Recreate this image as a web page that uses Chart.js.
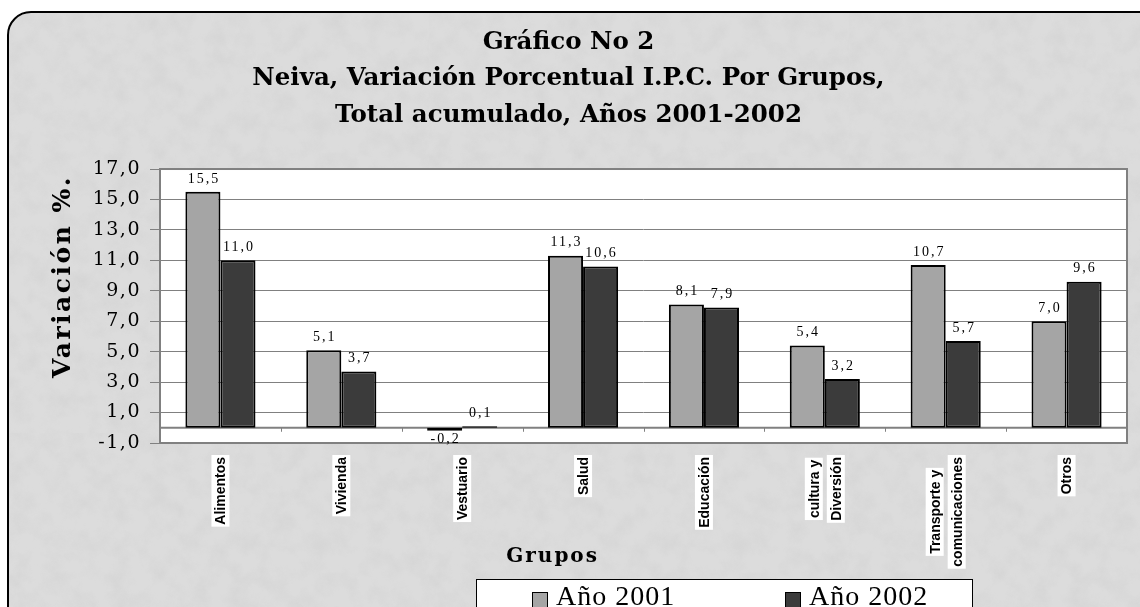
<!DOCTYPE html>
<html>
<head>
<meta charset="utf-8">
<script src="https://cdn.jsdelivr.net/npm/chart.js@4.4.1/dist/chart.umd.min.js"></script>
<style>
    html, body { margin: 0; padding: 0; background: #fff; overflow: hidden; }
    #marco {
        position: absolute; left: 7px; top: 11px; width: 1170px; height: 620px;
        border: 2px solid #000; border-top-left-radius: 24px;
        background-color: #dcdcdc;
        background-image: url("data:image/svg+xml;utf8,<svg xmlns='http://www.w3.org/2000/svg' width='420' height='420'><filter id='t'><feTurbulence type='fractalNoise' baseFrequency='0.05' numOctaves='4' seed='7'/><feColorMatrix type='matrix' values='0 0 0 0 0.62  0 0 0 0 0.62  0 0 0 0 0.62  0.9 0 0 0 -0.34'/></filter><rect width='100%' height='100%' filter='url(%23t)'/></svg>");
    }
    #grafico { position: absolute; left: 0; top: 0; }
</style>
</head>
<body>
<div id="marco"></div>
<canvas id="grafico" width="1140" height="607"></canvas>
<script>
// Datos del gráfico
const grupos = ['Alimentos', 'Vivienda', 'Vestuario', 'Salud', 'Educación',
    ['cultura y', 'Diversión'], ['Transporte y', 'comunicaciones'], 'Otros'];
const anio2001 = [15.5, 5.1, -0.2, 11.3, 8.1, 5.4, 10.7, 7.0];
const anio2002 = [11.0, 3.7, 0.1, 10.6, 7.9, 3.2, 5.7, 9.6];
const nombresSeries = ['Año 2001', 'Año 2002'];
const coloresSeries = ['#a5a5a5', '#3b3b3b'];
const ejeY = { min: -1, max: 17, paso: 2 };

const tituloLineas = ['Gráfico No 2', 'Neiva, Variación Porcentual I.P.C. Por Grupos,', 'Total acumulado, Años 2001-2002'];
const tituloY = 'Variación %.';
const tituloX = 'Grupos';

const coma = (v) => v.toFixed(1).replace('.', ',');

// fondo blanco del área de trazado, línea del cero y marco gris
const areaPlugin = {
    id: 'areaPlugin',
    beforeDraw(chart) {
        const { ctx, chartArea: a } = chart;
        ctx.letterSpacing = '0px';
        ctx.save();
        ctx.fillStyle = '#ffffff';
        ctx.fillRect(a.left, a.top, a.right - a.left, a.bottom - a.top);
        ctx.restore();
    },
    beforeDatasetsDraw(chart) {
        const { ctx, chartArea: a, scales } = chart;
        const y0 = scales.y.getPixelForValue(0);
        ctx.save();
        ctx.strokeStyle = '#808080';
        ctx.lineWidth = 2;
        ctx.beginPath();
        ctx.moveTo(a.left, y0);
        ctx.lineTo(a.right, y0);
        ctx.stroke();
        // marcas entre categorías sobre el eje del cero
        ctx.lineWidth = 1;
        const n = grupos.length;
        const w = (a.right - a.left) / n;
        for (let i = 0; i <= n; i++) {
            const x = Math.round(a.left + i * w) + 0.5;
            ctx.beginPath();
            ctx.moveTo(x, y0);
            ctx.lineTo(x, y0 + 4);
            ctx.stroke();
        }
        ctx.restore();
    },
    afterDatasetsDraw(chart) {
        const { ctx, chartArea: a } = chart;
        ctx.save();
        ctx.strokeStyle = '#808080';
        ctx.lineWidth = 2;
        ctx.strokeRect(a.left, a.top, a.right - a.left, a.bottom - a.top);
        ctx.restore();
    }
};

// etiquetas de valor sobre cada barra
const etiquetas = {
    id: 'etiquetas',
    afterDatasetsDraw(chart) {
        const { ctx, data } = chart;
        ctx.save();
        ctx.font = '14px "Liberation Serif"';
        ctx.letterSpacing = '2px';
        ctx.fillStyle = '#000';
        ctx.textAlign = 'center';
        data.datasets.forEach((ds, di) => {
            chart.getDatasetMeta(di).data.forEach((bar, i) => {
                const v = ds.data[i];
                if (v >= 0) {
                    ctx.textBaseline = 'bottom';
                    ctx.fillText(coma(v), bar.x + 1, bar.y - 6);
                } else {
                    ctx.textBaseline = 'top';
                    ctx.fillText(coma(v), bar.x + 1, bar.y + 2);
                }
            });
        });
        ctx.restore();
    }
};

// las etiquetas del eje Y (z: 1) se pintan después de este punto, con letras algo espaciadas
const espaciado = {
    id: 'espaciado',
    afterDatasetsDraw(chart) {
        chart.ctx.letterSpacing = '1.5px';
    }
};

// títulos de ejes, etiquetas de categorías y leyenda
const textos = {
    id: 'textos',
    afterDraw(chart) {
        const { ctx, chartArea: a, scales } = chart;
        ctx.save();
        ctx.fillStyle = '#000';

        // categorías giradas, cada línea con fondo blanco
        ctx.font = 'bold 14px "Liberation Sans"';
        ctx.letterSpacing = '0px';
        const arriba = a.bottom + 12;
        chart.data.labels.forEach((lab, i) => {
            const lineas = Array.isArray(lab) ? lab : [lab];
            const xc = scales.x.getPixelForTick(i);
            const largo = Math.max(...lineas.map(l => ctx.measureText(l).width));
            const yc = arriba + largo / 2 + 2;
            lineas.forEach((l, j) => {
                const x = xc + (j - (lineas.length - 1) / 2) * 22;
                const wl = ctx.measureText(l).width;
                ctx.fillStyle = '#fff';
                ctx.fillRect(x - 9, yc - wl / 2 - 2, 18, wl + 4);
                ctx.save();
                ctx.translate(x, yc);
                ctx.rotate(-Math.PI / 2);
                ctx.fillStyle = '#000';
                ctx.textAlign = 'center';
                ctx.textBaseline = 'middle';
                ctx.fillText(l, 0, 1);
                ctx.restore();
            });
        });

        ctx.fillStyle = '#000';
        // eje Y
        ctx.font = 'bold 25px "DejaVu Serif"';
        ctx.letterSpacing = '2.5px';
        ctx.save();
        ctx.translate(63, 175);
        ctx.rotate(-Math.PI / 2);
        ctx.textAlign = 'right';
        ctx.textBaseline = 'middle';
        ctx.fillText(tituloY, 0, 0);
        ctx.restore();
        // eje X
        ctx.font = 'bold 20px "DejaVu Serif"';
        ctx.letterSpacing = '2px';
        ctx.textAlign = 'center';
        ctx.textBaseline = 'alphabetic';
        ctx.fillText(tituloX, a.left + (a.right - a.left) * 0.406, 562);

        // leyenda
        const caja = { x: 476, y: 579, w: 496, h: 40 };
        ctx.fillStyle = '#fff';
        ctx.fillRect(caja.x, caja.y, caja.w, caja.h);
        ctx.strokeStyle = '#000';
        ctx.lineWidth = 1;
        ctx.strokeRect(caja.x + 0.5, caja.y + 0.5, caja.w, caja.h);
        const xs = [532, 785];
        ctx.font = '28px "Liberation Serif"';
        ctx.letterSpacing = '1px';
        ctx.textAlign = 'left';
        nombresSeries.forEach((nombre, i) => {
            ctx.fillStyle = coloresSeries[i];
            ctx.fillRect(xs[i], 592, 15, 15);
            ctx.strokeRect(xs[i] + 0.5, 592.5, 15, 15);
            ctx.fillStyle = '#000';
            ctx.fillText(nombre, xs[i] + 24, 605);
        });
        ctx.restore();
    }
};

const ctx = document.getElementById('grafico').getContext('2d');

new Chart(ctx, {
    type: 'bar',
    data: {
        labels: grupos,
        datasets: [
            { label: nombresSeries[0], data: anio2001, backgroundColor: coloresSeries[0] },
            { label: nombresSeries[1], data: anio2002, backgroundColor: coloresSeries[1] }
        ]
    },
    options: {
        responsive: false,
        animation: false,
        datasets: {
            bar: {
                borderColor: '#000',
                borderWidth: 2,
                borderSkipped: false,
                categoryPercentage: 0.58,
                barPercentage: 1
            }
        },
        layout: {
            padding: { left: 10, top: 10, right: 13, bottom: 0 }
        },
        plugins: {
            legend: { display: false },
            tooltip: { enabled: false },
            title: {
                display: true,
                text: tituloLineas,
                color: '#000',
                font: { family: '"DejaVu Serif"', size: 24.5, weight: 'bold', lineHeight: 1.49 },
                padding: { top: 14, bottom: 35.5 }
            }
        },
        scales: {
            x: {
                grid: { display: false, drawTicks: false },
                border: { display: false },
                ticks: { display: false },
                afterFit(scale) { scale.height = 164; }
            },
            y: {
                min: ejeY.min,
                max: ejeY.max,
                ticks: {
                    stepSize: ejeY.paso,
                    padding: 9,
                    z: 1,
                    color: '#000',
                    font: { family: '"DejaVu Serif"', size: 19 },
                    callback: (v) => coma(v)
                },
                grid: { color: '#808080', tickColor: '#808080', tickLength: 10, lineWidth: 1 },
                border: { display: false },
                afterFit(scale) { scale.width = 150; }
            }
        }
    },
    plugins: [areaPlugin, etiquetas, espaciado, textos]
});
</script>
</body>
</html>
